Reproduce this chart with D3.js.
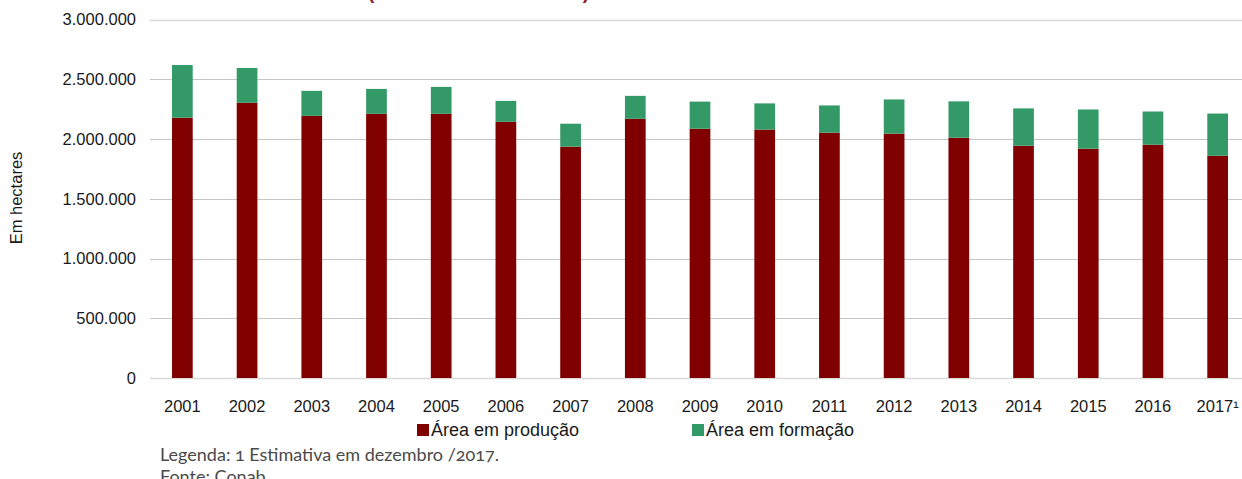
<!DOCTYPE html>
<html>
<head>
<meta charset="utf-8">
<script src="https://cdn.jsdelivr.net/npm/d3@7"></script>
<style>
  body { margin: 0; background: #fff; }
  svg { display: block; font-family: "Liberation Sans", Arial, sans-serif; }
</style>
</head>
<body>
<svg id="chart" width="1242" height="479"></svg>
<script>
// anos (categorias)
var years = ["2001", "2002", "2003", "2004", "2005", "2006", "2007", "2008", "2009",
             "2010", "2011", "2012", "2013", "2014", "2015", "2016", "2017"];
var yearLabels = ["2001", "2002", "2003", "2004", "2005", "2006", "2007", "2008", "2009",
                  "2010", "2011", "2012", "2013", "2014", "2015", "2016", "2017\u00b9"];
// área em produção (ha)
var producao = [2178000, 2303000, 2194000, 2211000, 2211000, 2144000, 1936000, 2169000, 2086000,
                2079000, 2053000, 2045000, 2011000, 1944000, 1919000, 1952000, 1860000];
// área em formação (ha)
var formacao = [441000, 291000, 209000, 208000, 225000, 175000, 192000, 192000, 227000,
                219000, 228000, 286000, 304000, 312000, 328000, 278000, 353000];
var yTicks = [0, 500000, 1000000, 1500000, 2000000, 2500000, 3000000];

var svg = d3.select("#chart");

var x = d3.scaleBand().domain(years).range([150, 1250]).paddingInner(0.68).paddingOuter(0.34);
var y = d3.scaleLinear().domain([0, 3000000]).range([378, 19.5]);

var br = d3.formatLocale({ decimal: ",", thousands: ".", grouping: [3], currency: ["R$", ""] });
var fmt = br.format(",d");

// titulo (cortado no topo)
svg.append("text")
    .attr("x", 368).attr("y", -1)
    .attr("textLength", 221).attr("lengthAdjust", "spacing")
    .attr("font-size", 19).attr("font-weight", "bold")
    .attr("fill", "#8b1a2b")
    .text("(em hectares \u2013 2001 a 2017)");

// grid
svg.append("g").selectAll("line")
    .data(yTicks)
    .enter().append("line")
    .attr("x1", 150).attr("x2", 1242)
    .attr("y1", function (d) { return Math.round(y(d)) + 0.5; })
    .attr("y2", function (d) { return Math.round(y(d)) + 0.5; })
    .attr("stroke", function (d) { return (d == 0 || d == 3000000) ? "#d9d9d9" : "#c6c6c6"; })
    .attr("stroke-width", function (d) { return (d == 0 || d == 3000000) ? 1.6 : 1.1; });

// y labels
svg.append("g").selectAll("text")
    .data(yTicks)
    .enter().append("text")
    .attr("x", 136)
    .attr("y", function (d) { return y(d); })
    .attr("dy", "0.35em")
    .attr("text-anchor", "end")
    .attr("font-size", 16.5)
    .attr("fill", "#1a1a1a")
    .text(function (d) { return fmt(d); });

svg.append("text")
    .attr("transform", "translate(22,198) rotate(-90)")
    .attr("text-anchor", "middle")
    .attr("font-size", 16.5)
    .attr("fill", "#1a1a1a")
    .text("Em hectares");

// barras empilhadas
var rows = years.map(function (yr, i) { return { year: yr, prod: producao[i], form: formacao[i] }; });
var stack = d3.stack().keys(["prod", "form"])(rows);
var colors = { prod: "#800000", form: "#339966" };

svg.append("g").selectAll("g")
    .data(stack)
    .enter().append("g")
    .attr("fill", function (s) { return colors[s.key]; })
    .selectAll("rect")
    .data(function (s) { return s; })
    .enter().append("rect")
    .attr("x", function (d) { return x(d.data.year); })
    .attr("width", x.bandwidth())
    .attr("y", function (d) { return y(d[1]); })
    .attr("height", function (d) { return y(d[0]) - y(d[1]); });

// x labels
svg.append("g").selectAll("text")
    .data(years)
    .enter().append("text")
    .attr("x", function (d) { return x(d) + x.bandwidth() / 2; })
    .attr("y", 412)
    .attr("text-anchor", "middle")
    .attr("font-size", 16.5)
    .attr("fill", "#1a1a1a")
    .text(function (d, i) { return yearLabels[i]; });

// legenda
var legend = [
    { label: "\u00c1rea em produ\u00e7\u00e3o", color: colors.prod, x: 417 },
    { label: "\u00c1rea em forma\u00e7\u00e3o", color: colors.form, x: 692 }
];
var lg = svg.append("g").selectAll("g").data(legend).enter().append("g");
lg.append("rect")
    .attr("x", function (d) { return d.x; }).attr("y", 424)
    .attr("width", 12).attr("height", 12)
    .attr("fill", function (d) { return d.color; });
lg.append("text")
    .attr("x", function (d) { return d.x + 14; }).attr("y", 436)
    .attr("font-size", 18)
    .attr("fill", "#1a1a1a")
    .text(function (d) { return d.label; });

// notas
svg.append("text")
    .attr("x", 160).attr("y", 461)
    .attr("font-family", "Lato, 'Open Sans', sans-serif")
    .attr("font-size", 18)
    .attr("fill", "#4a4a4a")
    .style("font-variant-numeric", "oldstyle-nums")
    .text("Legenda: 1 Estimativa em dezembro /2017.");
svg.append("text")
    .attr("x", 160).attr("y", 483)
    .attr("font-family", "Lato, 'Open Sans', sans-serif")
    .attr("font-size", 18)
    .attr("fill", "#4a4a4a")
    .text("Fonte: Conab");
</script>
</body>
</html>
